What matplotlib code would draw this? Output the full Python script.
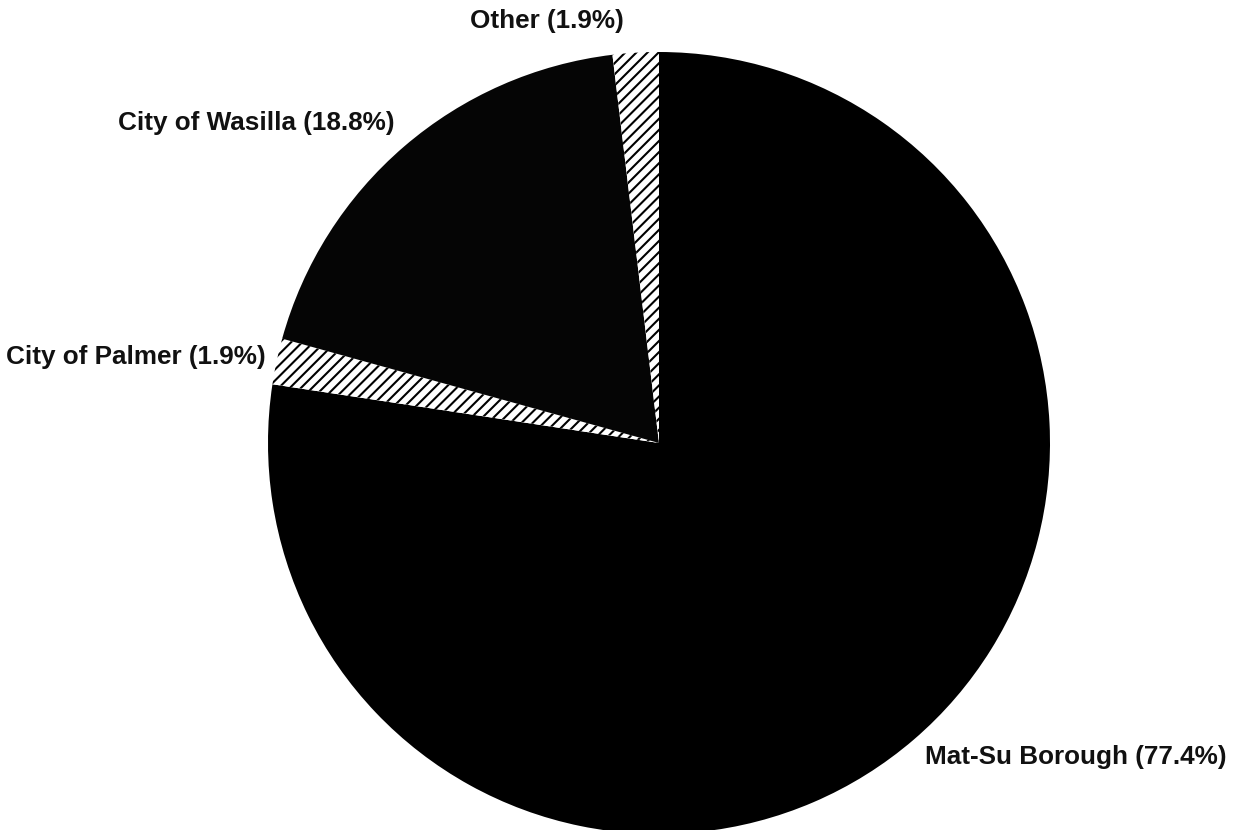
import matplotlib
matplotlib.use("Agg")
import matplotlib.pyplot as plt

categories = ["Mat-Su Borough", "City of Palmer", "City of Wasilla", "Other"]
shares = [77.4, 1.9, 18.8, 1.9]
label_texts = [f"{c} ({v}%)" for c, v in zip(categories, shares)]

W, H = 1246, 830
plt.rcParams['hatch.linewidth'] = 1.5
fig = plt.figure(figsize=(W / 100, H / 100), dpi=100)
ax = fig.add_axes([0, 0, 1, 1])
ax.set_xlim(0, W)
ax.set_ylim(0, H)
ax.set_aspect('equal')
ax.axis('off')

cx, cy, r = 659, H - 443, 391
wedges, _ = ax.pie(shares, startangle=90, counterclock=False, center=(cx, cy), radius=r,
                   colors=['black', 'white', '#050505', 'white'],
                   wedgeprops=dict(edgecolor='black', linewidth=0))
ax.set_xlim(0, W)
ax.set_ylim(0, H)
for i in (1, 3):
    wedges[i].set_hatch('///')
    wedges[i].set_edgecolor('black')

font = dict(family=['Liberation Sans', 'DejaVu Sans'], fontweight='bold', fontsize=18.8, color='#111111')
pos = [(925, H - 757, 'left'), (266, H - 357, 'right'), (395, H - 123, 'right'), (624, H - 21, 'right')]
for (x, y, ha), t in zip(pos, label_texts):
    ax.text(x, y, t, ha=ha, va='center', **font)

fig.savefig("out.png", dpi=100)
